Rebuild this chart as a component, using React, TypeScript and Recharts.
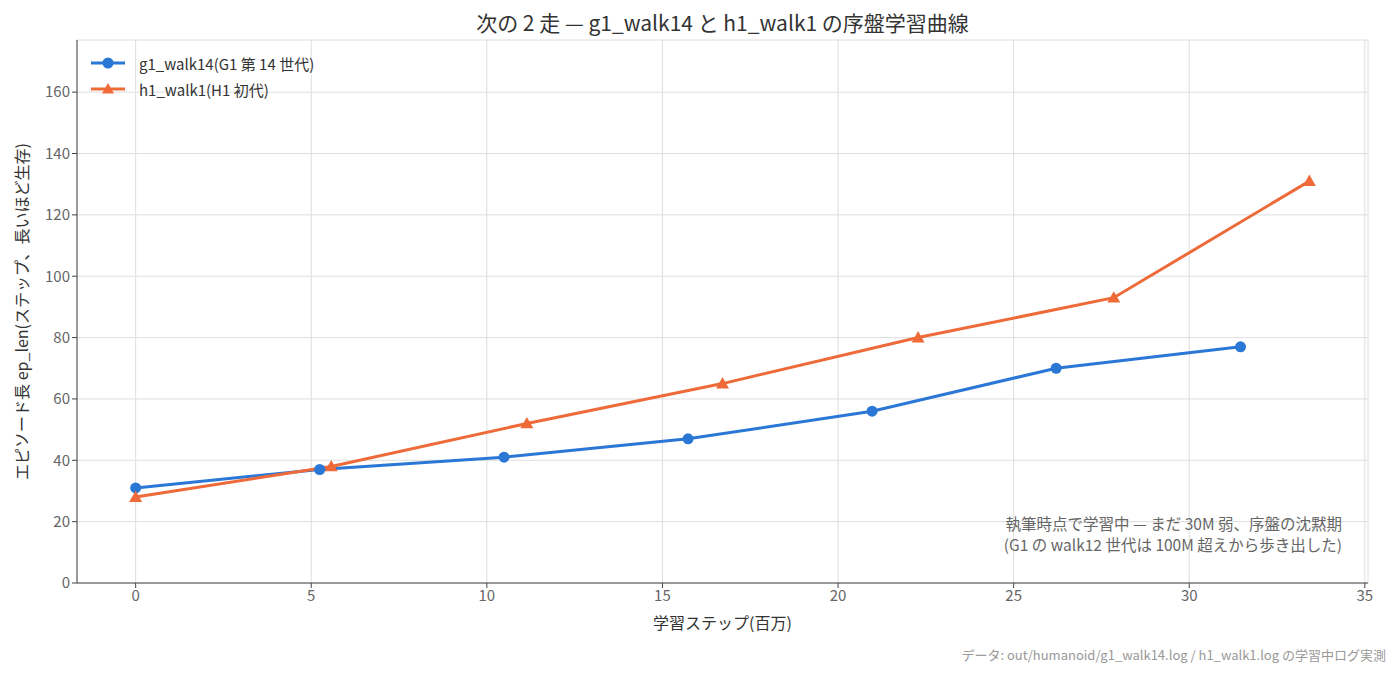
import React from "react";
import { LineChart, Line, CartesianGrid, XAxis, YAxis } from "recharts";

// 学習ステップ(百万) と ep_len
const g1Steps = [0, 5.24, 10.49, 15.73, 20.97, 26.21, 31.46];
const g1EpLen = [31, 37, 41, 47, 56, 70, 77];
const h1Steps = [0, 5.57, 11.14, 16.71, 22.28, 27.85, 33.42];
const h1EpLen = [28, 38, 52, 65, 80, 93, 131];

const xTicks = [0, 5, 10, 15, 20, 25, 30, 35];
const yTicks = [0, 20, 40, 60, 80, 100, 120, 140, 160];

const BLUE = "#2a77d6";
const ORANGE = "#ee6a38";
const FONT = "'Noto Sans CJK JP', 'Noto Sans', sans-serif";

const g1Data = g1Steps.map((x, i) => ({ x, y: g1EpLen[i] }));
const h1Data = h1Steps.map((x, i) => ({ x, y: h1EpLen[i] }));

const Circle = (props: any) => {
  const { cx, cy } = props;
  if (cx == null || cy == null) return null;
  return <circle cx={cx} cy={cy} r={5.5} fill={BLUE} />;
};

const Triangle = (props: any) => {
  const { cx, cy } = props;
  if (cx == null || cy == null) return null;
  const s = 6.5;
  return (
    <polygon
      points={`${cx},${cy - s} ${cx - s},${cy + s * 0.75} ${cx + s},${cy + s * 0.75}`}
      fill={ORANGE}
    />
  );
};

const legendItems = [
  { name: "g1_walk14(G1 第 14 世代)", color: BLUE, tri: false },
  { name: "h1_walk1(H1 初代)", color: ORANGE, tri: true },
];

const LegendBox = () => (
  <div style={{ position: "absolute", left: 90, top: 50, fontFamily: FONT, fontSize: 15, color: "#333" }}>
    {legendItems.map((it) => (
      <div key={it.name} style={{ display: "flex", alignItems: "center", height: 26 }}>
        <svg width={36} height={16} style={{ marginRight: 13 }}>
          <line x1={1} y1={8} x2={35} y2={8} stroke={it.color} strokeWidth={3} />
          {it.tri ? (
            <polygon points="18,2 12,12.5 24,12.5" fill={it.color} />
          ) : (
            <circle cx={18} cy={8} r={5.5} fill={it.color} />
          )}
        </svg>
        <span>{it.name}</span>
      </div>
    ))}
  </div>
);

const noteStyle: React.CSSProperties = {
  position: "absolute",
  right: 56,
  textAlign: "right",
  fontSize: 15.5,
  lineHeight: 1,
  color: "#666",
  whiteSpace: "nowrap",
};

const App = () => {
  return (
    <div style={{ position: "absolute", left: 0, top: 0, width: 1398, height: 674, background: "#fff", fontFamily: FONT }}>
      <LineChart width={1398} height={674} margin={{ top: 40, right: 30, left: 17, bottom: 41 }}>
        <CartesianGrid stroke="#dedede" strokeWidth={1} />
        <XAxis
          type="number"
          dataKey="x"
          domain={[-1.67, 35.09]}
          ticks={xTicks}
          allowDataOverflow
          stroke="#444"
          tick={{ fill: "#666", fontSize: 15, fontFamily: FONT }}
          tickSize={5}
          height={50}
          label={{ value: "学習ステップ(百万)", position: "insideBottom", offset: 4, fill: "#333", fontSize: 16, fontFamily: FONT }}
        />
        <YAxis
          type="number"
          dataKey="y"
          domain={[0, 177]}
          ticks={yTicks}
          allowDataOverflow
          stroke="#444"
          tick={{ fill: "#666", fontSize: 15, fontFamily: FONT }}
          tickSize={5}
          width={60}
          label={{ value: "エピソード長 ep_len(ステップ、長いほど生存)", angle: -90, position: "insideLeft", offset: 5, style: { textAnchor: "middle" }, fill: "#333", fontSize: 16, fontFamily: FONT }}
        />
        <Line
          data={g1Data}
          dataKey="y"
          name="g1_walk14(G1 第 14 世代)"
          stroke={BLUE}
          strokeWidth={3}
          dot={<Circle />}
          activeDot={false}
          isAnimationActive={false}
        />
        <Line
          data={h1Data}
          dataKey="y"
          name="h1_walk1(H1 初代)"
          stroke={ORANGE}
          strokeWidth={3}
          dot={<Triangle />}
          activeDot={false}
          isAnimationActive={false}
        />
      </LineChart>
      <div style={{ position: "absolute", left: 77, width: 1291, top: 7, textAlign: "center", fontSize: 21, color: "#333" }}>
        次の 2 走 — g1_walk14 と h1_walk1 の序盤学習曲線
      </div>
      <LegendBox />
      <div style={{ ...noteStyle, top: 516 }}>執筆時点で学習中 — まだ 30M 弱、序盤の沈黙期</div>
      <div style={{ ...noteStyle, top: 537 }}>(G1 の walk12 世代は 100M 超えから歩き出した)</div>
      <div style={{ position: "absolute", right: 12, top: 645, fontSize: 13, color: "#999" }}>
        データ: out/humanoid/g1_walk14.log / h1_walk1.log の学習中ログ実測
      </div>
    </div>
  );
};

export default App;
